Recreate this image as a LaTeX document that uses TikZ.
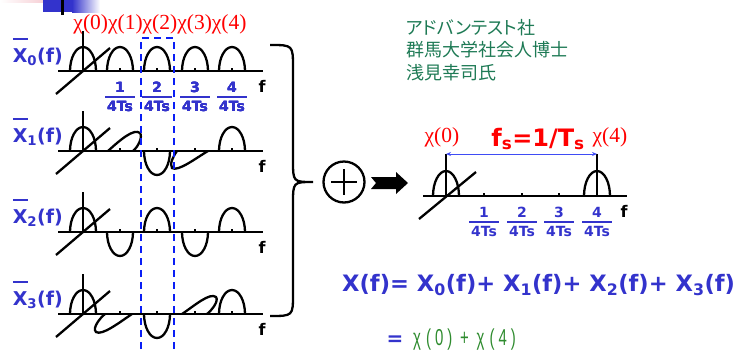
\documentclass[tikz,border=0pt]{standalone}
\usepackage{fontspec}
\setmainfont{DejaVu Sans}
\newfontfamily\timesfont{Liberation Serif}
\newfontfamily\narrowfont{Liberation Sans}
\newfontfamily\jpfont{Noto Sans CJK JP}
\newfontfamily\jpkana[RawFeature=+palt]{Noto Sans CJK JP}
\usetikzlibrary{arrows.meta,calc}
\definecolor{sigblue}{HTML}{3333CC}
\definecolor{dashblue}{HTML}{0A1EF5}
\definecolor{spanblue}{HTML}{3F4CF5}
\definecolor{chired}{HTML}{FF0000}
\definecolor{jpgreen}{HTML}{1E7A55}
\definecolor{sumgreen}{HTML}{2E8B2E}
\definecolor{tabpink}{HTML}{F4C4CB}
\newcommand{\xbar}[1]{\rlap{\rule[1.15em]{0.78em}{0.1em}}X\textsubscript{#1}(f)}
\newcommand{\quarter}[1]{\vbox{\hbox to 30pt{\hss#1\hss}\kern3.5pt\hrule height 1.4pt\kern3pt\hbox to 30pt{\hss 4Ts\hss}}}
\newcommand{\hump}[3]{\draw[curve] (#1-13,#2) .. controls (#1-13,{#2-0.55*(#3)}) and (#1-7.2,{#2-(#3)}) .. (#1,{#2-(#3)})
  .. controls (#1+7.2,{#2-(#3)}) and (#1+13,{#2-0.55*(#3)}) .. (#1+13,#2);}
\newcommand{\specaxis}[1]{%
  \draw[axisln] (58,#1) -- (263,#1);
  \foreach \tx in {120,157,195,232} \fill (\tx-1.4,#1-3.5) rectangle (\tx+1.4,#1);
  \draw[axisln] (83,#1-40) -- (83,#1);
  \draw[curve] (56,#1+23) -- (110,#1-23);
  \hump{83}{#1}{24}}
\tikzset{
  curve/.style={line width=2.3pt, black},
  axisln/.style={line width=2.3pt, black},
  rowlbl/.style={anchor=base east, inner sep=0pt, text=sigblue, font=\bfseries\fontsize{19}{22}\selectfont},
  flbl/.style={anchor=base, inner sep=0pt, font=\bfseries\fontsize{16}{19}\selectfont},
  fraclbl/.style={anchor=base, inner sep=0pt, text=sigblue, font=\bfseries\fontsize{14}{16}\selectfont},
  chilbl/.style={anchor=base, inner sep=0pt, text=chired, font=\timesfont\fontsize{21.5}{25}\selectfont},
  dashln/.style={line width=2.5pt, dashblue, dash pattern=on 7pt off 5pt},
  spanarr/.style={{Stealth[length=5pt,width=4pt]}-{Stealth[length=5pt,width=4pt]}, line width=0.9pt, spanblue},
  sumcirc/.style={circle, draw, line width=2.3pt, minimum size=41pt, inner sep=0pt}}
\begin{document}
\begin{tikzpicture}[x=1pt,y=-1pt]
  \useasboundingbox (0,0) rectangle (753,349);
  % slide corner
  \shade[left color=white, right color=tabpink] (0,0) rectangle (55,2);
  \fill[sigblue] (43,0) rectangle (72,12);
  \shade[left color=sigblue, right color=white] (72,0) rectangle (100,12);
  \fill[black] (61,0) rectangle (63.5,15);

  \node[chilbl] (chis) at (160,29) {χ(0)χ(1)χ(2)χ(3)χ(4)};

  % four spectra
  \foreach \ay/\k in {71/0,151/1,232/2,314/3} {
    \node[rowlbl] (lbl\k) at (63,\ay-9) {\xbar{\k}};
    \specaxis{\ay}
    \node[flbl] (f\k) at (262,\ay+21) {f};
  }
  \foreach \hx in {120,157,195,232} \hump{\hx}{71}{24}
  \foreach \tx/\n in {120/1,157/2,195/3,232/4}
    \node[fraclbl] (q\n) at (\tx,111) {\quarter{\n}};

  \hump{157}{151}{-24}
  \hump{232}{151}{24}
  \draw[curve] (108,151) .. controls (120,140) and (134,128) .. (140,133) .. controls (143,137) and (138,147) .. (133,151);
  \draw[curve] (208,151) .. controls (196,158) and (178,172) .. (172,168) .. controls (169,164) and (174,155) .. (177,151);

  \hump{120}{232}{-24}
  \hump{157}{232}{24}
  \hump{195}{232}{-24}
  \hump{232}{232}{24}

  \hump{157}{314}{-24}
  \hump{232}{314}{24}
  \draw[curve] (132,314) .. controls (120,322) and (102,336) .. (96,332) .. controls (92,328) and (100,318) .. (105,314);
  \draw[curve] (182,314) .. controls (194,306) and (210,292) .. (216,297) .. controls (219,301) and (212,310) .. (207,314);

  \draw[dashln] (141,349) -- (141,38) -- (174,38) -- (174,349);

  % brace, sum and arrow
  \draw[curve] (270,45) .. controls (293,45) .. (293,68) -- (293,160) .. controls (293,182) .. (313,182)
    .. controls (293,182) .. (293,204) -- (293,294) .. controls (293,316) .. (270,316);
  \node[sumcirc] (sum) at (344,182) {};
  \draw[curve] ($(sum.center)+(-13,0)$) -- ($(sum.center)+(13,0)$);
  \draw[curve] ($(sum.center)+(0,-13)$) -- ($(sum.center)+(0,13)$);
  \fill (371,177) -- (396,177) -- (396,172) -- (408,183) -- (396,194) -- (396,189) -- (371,189) -- (376,183) -- cycle;

  % resulting spectrum
  \draw[axisln] (423,196) -- (627,196);
  \foreach \tx in {484,522,559,597} \fill (\tx-1.4,192.5) rectangle (\tx+1.4,196);
  \coordinate (ax0) at (446,154);
  \coordinate (ax4) at (597,154);
  \draw[axisln] (ax0) -- (446,196);
  \draw[axisln] (ax4) -- (597,196);
  \hump{446}{196}{25}
  \hump{597}{196}{25}
  \draw[curve] (419,219) -- (476,172);
  \draw[spanarr] (ax0) -- (ax4);
  \foreach \tx/\n in {484/1,522/2,559/3,597/4}
    \node[fraclbl] (r\n) at (\tx,236) {\quarter{\n}};
  \node[flbl] (fr) at (624,217) {f};
  \node[chilbl] (c0) at (442,142) {χ(0)};
  \node[chilbl] (c4) at (610,142) {χ(4)};
  \node[anchor=base, inner sep=0pt, text=chired, font=\bfseries\fontsize{24}{28}\selectfont] (fs) at (538,146)
    {f\textsubscript{s}=1/T\textsubscript{s}};

  \node[anchor=north west, inner sep=0pt, align=left, text=jpgreen, font=\fontsize{18}{22.5}\selectfont] (maker) at (406,19)
    {{\jpkana アドバンテスト社}\\{\jpfont 群馬大学社会人博士}\\{\jpfont 浅見幸司氏}};

  \node[anchor=base west, inner sep=0pt, text=sigblue, font=\bfseries\fontsize{22.6}{26}\selectfont] (sumeq) at (342,291)
    {X(f)= X\textsubscript{0}(f)+ X\textsubscript{1}(f)+ X\textsubscript{2}(f)+ X\textsubscript{3}(f)};
  \node[anchor=base, inner sep=0pt, text=sigblue, font=\bfseries\fontsize{20}{24}\selectfont] (eq) at (395,345) {=};
  \node[anchor=base west, inner sep=0pt, text=sumgreen, font=\narrowfont\fontsize{23}{26}\selectfont] (res) at (413,345)
    {\scalebox{0.65}[1]{χ\hspace{8pt}(\hspace{6pt}0\hspace{6pt})\hspace{12pt}+\hspace{12pt}χ\hspace{8pt}(\hspace{6pt}4\hspace{6pt})}};
\end{tikzpicture}
\end{document}
